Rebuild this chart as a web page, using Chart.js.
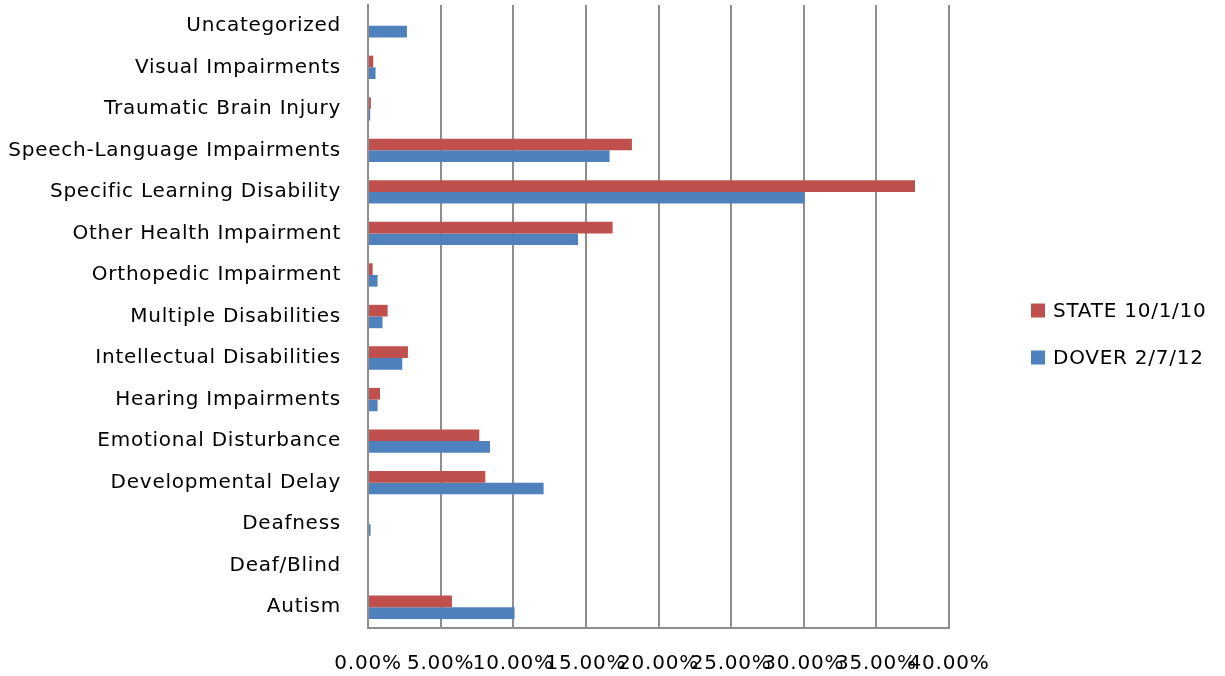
<!DOCTYPE html>
<html>
<head>
<meta charset="utf-8">
<title>Students by disability category</title>
<script src="https://cdn.jsdelivr.net/npm/chart.js@4/dist/chart.umd.min.js"></script>
<style>
  html, body { margin: 0; padding: 0; background: #fff; }
  canvas { display: block; }
</style>
</head>
<body>
<canvas id="disabilityChart" width="1225" height="676"></canvas>
<script>
// categories listed top to bottom
const categories = [
  "Uncategorized",
  "Visual Impairments",
  "Traumatic Brain Injury",
  "Speech-Language Impairments",
  "Specific Learning Disability",
  "Other Health Impairment",
  "Orthopedic Impairment",
  "Multiple Disabilities",
  "Intellectual Disabilities",
  "Hearing Impairments",
  "Emotional Disturbance",
  "Developmental Delay",
  "Deafness",
  "Deaf/Blind",
  "Autism"
];

// percent of students in each category
const stateShare = [0, 0.36, 0.2, 18.17, 37.66, 16.84, 0.32, 1.35, 2.75, 0.83, 7.66, 8.08, 0, 0, 5.78];
const doverShare = [2.68, 0.52, 0.15, 16.63, 30.06, 14.46, 0.66, 1.0, 2.36, 0.66, 8.4, 12.09, 0.18, 0, 10.09];

const seriesNames = ["STATE 10/1/10", "DOVER 2/7/12"];
const seriesColors = ["#C0504D", "#4F81BD"];

const axisMin = 0;
const axisMax = 40;
const axisStep = 5;

const FONT = "DejaVu Sans";
const GRID = "#8e8e8e";

Chart.defaults.font.family = FONT;
Chart.defaults.font.size = 20;
Chart.defaults.color = "#000";

// a little extra tracking on every label
const wideText = {
  id: "wideText",
  beforeUpdate(chart) { chart.ctx.letterSpacing = "0.75px"; },
  beforeDraw(chart) { chart.ctx.letterSpacing = "0.75px"; }
};

// legend to the right of the plot, one row per series
const sideLegend = {
  id: "sideLegend",
  afterDraw(chart, args, opts) {
    const ctx = chart.ctx;
    const x = chart.chartArea.right + opts.offset;
    let y = chart.height / 2 - opts.gap / 2 - 4;
    ctx.save();
    ctx.font = `${opts.size}px ${FONT}`;
    ctx.textBaseline = "middle";
    chart.data.datasets.forEach(ds => {
      ctx.fillStyle = ds.backgroundColor;
      ctx.fillRect(x, y - 7, 14, 14);
      ctx.fillStyle = "#000";
      ctx.fillText(ds.label, x + 22, y + 1);
      y += opts.gap;
    });
    ctx.restore();
  }
};

new Chart(document.getElementById("disabilityChart"), {
  type: "bar",
  data: {
    labels: categories,
    datasets: [
      { label: seriesNames[0], data: stateShare, backgroundColor: seriesColors[0] },
      { label: seriesNames[1], data: doverShare, backgroundColor: seriesColors[1] }
    ]
  },
  options: {
    indexAxis: "y",
    responsive: false,
    animation: false,
    layout: { padding: { top: 5, right: 276, left: 0, bottom: 0 } },
    datasets: { bar: { categoryPercentage: 0.563, barPercentage: 1 } },
    plugins: {
      legend: { display: false },
      tooltip: { enabled: false },
      sideLegend: { offset: 82, gap: 47, size: 20 }
    },
    scales: {
      x: {
        min: axisMin,
        max: axisMax,
        ticks: {
          stepSize: axisStep,
          autoSkip: false,
          maxRotation: 0,
          minRotation: 0,
          padding: 24,
          callback: v => v.toFixed(2) + "%"
        },
        grid: { color: GRID, lineWidth: 2, drawTicks: false },
        border: { color: GRID, width: 2 },
        afterFit: s => { s.height = 48; }
      },
      y: {
        grid: { display: false, drawTicks: false },
        border: { color: GRID, width: 2 },
        ticks: { padding: 27 },
        afterFit: s => {
          s.width = 368;
          s.paddingTop = 0;
          s.paddingBottom = 0;
        }
      }
    }
  },
  plugins: [wideText, sideLegend]
});
</script>
</body>
</html>
